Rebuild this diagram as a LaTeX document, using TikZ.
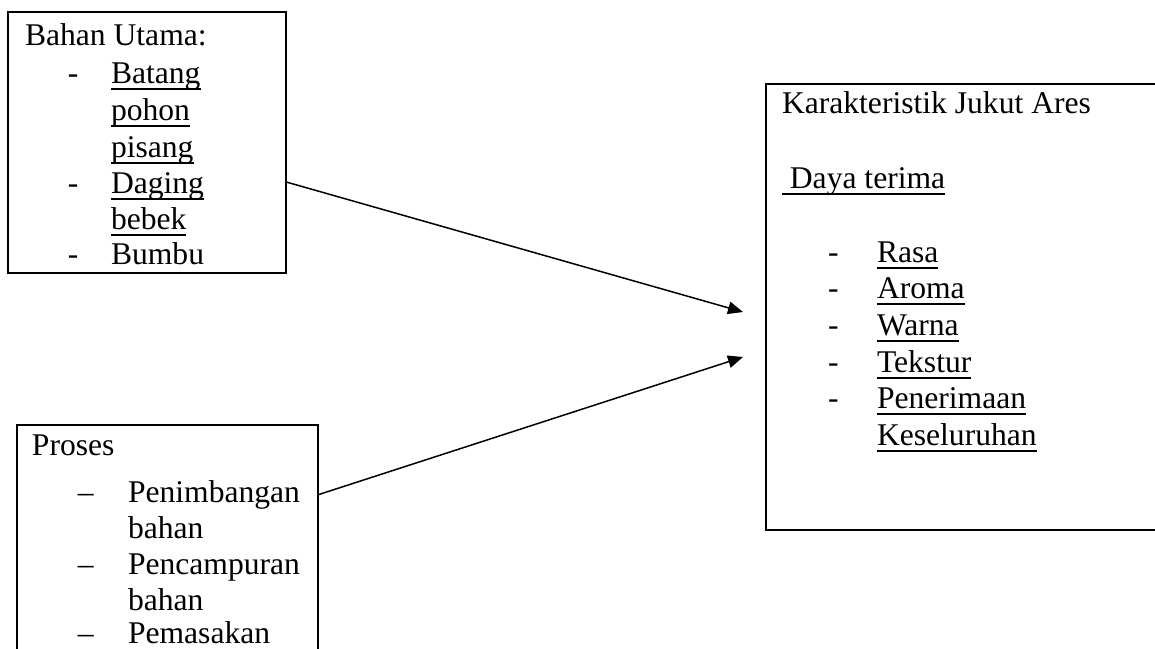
\documentclass[tikz,border=0pt]{standalone}
\usepackage{fontspec}
\setmainfont{Liberation Serif}
\usetikzlibrary{arrows.meta,fit,calc}
\newsavebox\ulbox
\newcommand\myul[1]{\sbox\ulbox{#1}\rlap{\rule[-2.6pt]{\wd\ulbox}{0.65pt}}\usebox\ulbox}
\tikzset{
  boxst/.style={draw=black, line width=0.8pt, inner sep=0pt},
  txt/.style={anchor=base west, inner sep=0pt, outer sep=0pt, font=\fontsize{12.64pt}{14.6pt}\selectfont},
  arr/.style={line width=0.6pt, -{Triangle[length=6pt,width=5pt]}}
}
\begin{document}
\begin{tikzpicture}[x=0.4pt,y=-0.4pt]
\useasboundingbox (0,0) rectangle (1155,648);
\clip (0,0) rectangle (1155,648);
% boxes
\node[boxst, fit={(8,12) (286,273)}] (b1) {};
\node[boxst, fit={(17,425) (318,680)}] (b2) {};
\node[boxst, fit={(766,84) (1180,530)}] (b3) {};
% box 1 text
\node[txt] (t1) at (25,45) {Bahan Utama:};
\node[txt] (d11) at (68,83) {-};
\node[txt] (i11) at (111,83) {\myul{Batang}};
\node[txt] (i12) at (111,120) {\myul{pohon}};
\node[txt] (i13) at (111,157) {\myul{pisang}};
\node[txt] (d12) at (68,193) {-};
\node[txt] (i14) at (111,193) {\myul{Daging}};
\node[txt] (i15) at (111,229) {\myul{bebek}};
\node[txt] (d13) at (68,264) {-};
\node[txt] (i16) at (111,264) {Bumbu};
% box 2 text
\node[txt] (t2) at (32,455) {Proses};
\node[txt] (d21) at (78,502) {--};
\node[txt] (i21) at (128,502) {Penimbangan};
\node[txt] (i22) at (128,538) {bahan};
\node[txt] (d22) at (78,574) {--};
\node[txt] (i23) at (128,574) {Pencampuran};
\node[txt] (i24) at (128,610) {bahan};
\node[txt] (d23) at (78,643) {--};
\node[txt] (i25) at (128,643) {Pemasakan};
% box 3 text
\node[txt] (t3) at (782,113) {Karakteristik Jukut Ares};
\node[txt] (t4) at (782,188) {\myul{\ Daya terima}};
\node[txt] (d31) at (828,262) {-};
\node[txt] (i31) at (877,262) {\myul{Rasa}};
\node[txt] (d32) at (828,298) {-};
\node[txt] (i32) at (877,298) {\myul{Aroma}};
\node[txt] (d33) at (828,335) {-};
\node[txt] (i33) at (877,335) {\myul{Warna}};
\node[txt] (d34) at (828,372) {-};
\node[txt] (i34) at (877,372) {\myul{Tekstur}};
\node[txt] (d35) at (828,408) {-};
\node[txt] (i35) at (877,408) {\myul{Penerimaan}};
\node[txt] (i36) at (877,445) {\myul{Keseluruhan}};
% connectors
\coordinate (e1) at (743,312);
\coordinate (e2) at (743,357);
\draw[arr] ($(b1.north east)!0.651!(b1.south east)$) -- (e1);
\draw[arr] (b2.north east |- i21.west) -- (e2);
\end{tikzpicture}
\end{document}
